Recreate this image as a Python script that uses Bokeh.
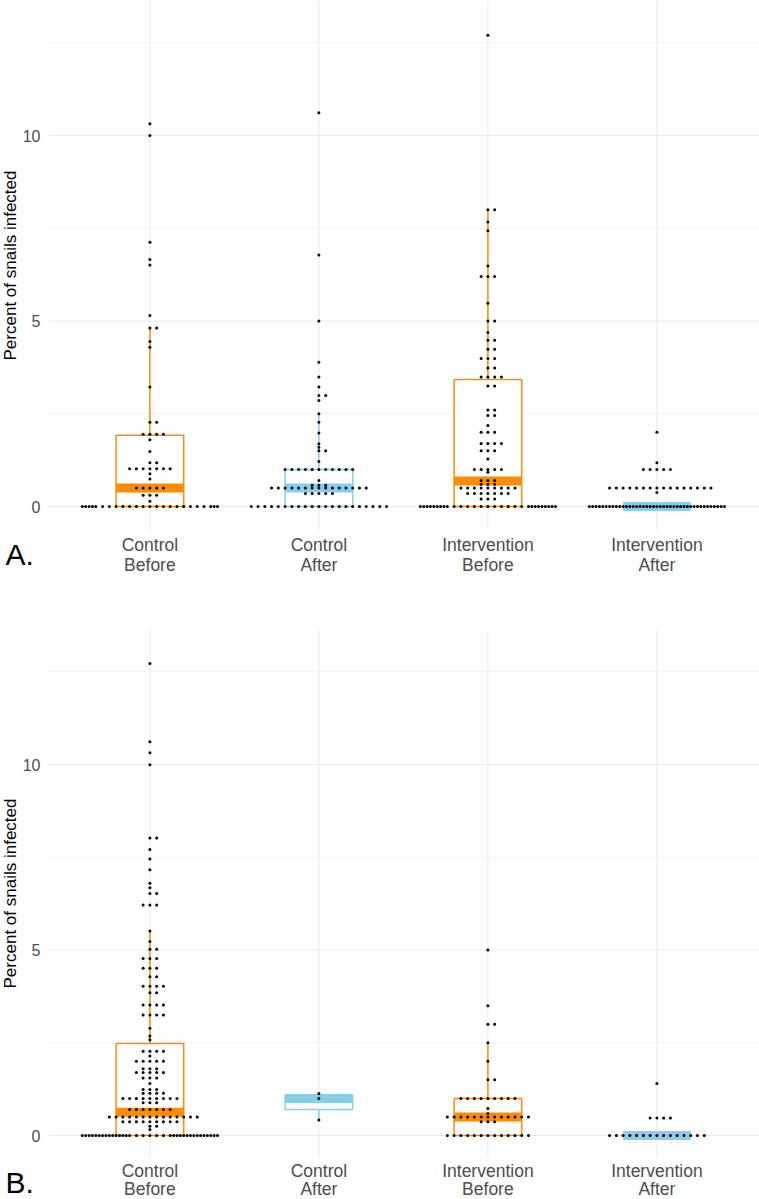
import math
from bokeh.plotting import figure
from bokeh.models import Range1d, ColumnDataSource
from bokeh.layouts import column
from bokeh.core.properties import value
from bokeh.embed import file_html
from bokeh.resources import INLINE

# ---------------- data ----------------
categories = ["Control\nBefore", "Control\nAfter", "Intervention\nBefore", "Intervention\nAfter"]
periods = ["Before", "After", "Before", "After"]
period_colors = {"Before": "#FF8C00", "After": "#87CEEB"}
y_ticks = [0, 5, 10]
y_minor_ticks = [2.5, 7.5, 12.5]
y_title = "Percent of snails infected"
panel_tags = ["A.", "B."]

# Panel A: dot rows (value of the row, number of dots in it)
a_cb_values = [10.32, 10.0, 7.12, 6.66, 6.51, 5.15, 4.81, 4.45, 4.29, 3.22, 2.27, 1.95, 1.8, 1.48, 1.18, 1.02, 0.88, 0.74, 0.5, 0.3, 0.14, 0.0]
a_cb_counts = [1, 1, 1, 1, 1, 1, 2, 1, 1, 1, 2, 4, 1, 1, 2, 7, 1, 1, 5, 3, 1, 24]
a_ca_values = [10.61, 6.78, 5.0, 3.89, 3.49, 3.22, 2.99, 2.86, 2.5, 2.27, 1.98, 1.69, 1.6, 1.5, 1.21, 1.0, 0.7, 0.57, 0.5, 0.35, 0.0]
a_ca_counts = [1, 1, 1, 1, 1, 1, 2, 1, 1, 1, 1, 1, 1, 2, 1, 11, 1, 3, 15, 5, 21]
a_ib_values = [12.7, 8.0, 7.67, 7.43, 6.48, 6.2, 5.48, 5.0, 4.69, 4.48, 4.24, 3.99, 3.73, 3.49, 3.25, 2.6, 2.45, 2.18, 2.0, 1.7, 1.5, 1.28, 1.0, 0.92, 0.7, 0.6, 0.5, 0.35, 0.2, 0.0]
a_ib_counts = [1, 2, 1, 1, 1, 3, 1, 2, 1, 2, 2, 3, 2, 4, 2, 2, 2, 1, 3, 4, 3, 1, 5, 1, 3, 3, 9, 7, 3, 29]
a_ia_values = [2.0, 1.18, 1.0, 0.5, 0.38, 0.0]
a_ia_counts = [1, 1, 5, 16, 1, 41]

# Panel A: box statistics
a_q1 = [0.0, 0.0, 0.0, 0.0]
a_median = [0.5, 0.5, 0.69, 0.0]
a_q3 = [1.92, 1.0, 3.42, 0.0]
a_whisker_low = [0.0, 0.0, 0.0, 0.0]
a_whisker_high = [4.81, 2.5, 8.0, 0.0]

# Panel B: dot rows
b_cb_values = [12.72, 10.61, 10.32, 9.99, 8.02, 7.71, 7.45, 7.16, 6.8, 6.68, 6.52, 6.21, 5.51, 5.23, 5.02, 4.77, 4.51, 4.28, 4.02, 3.85, 3.52, 3.25, 2.89, 2.68, 2.58, 2.27, 2.14, 2.0, 1.8, 1.7, 1.55, 1.4, 1.24, 1.14, 1.0, 0.88, 0.7, 0.5, 0.37, 0.25, 0.16, 0.0]
b_cb_counts = [1, 1, 1, 1, 2, 1, 1, 1, 1, 1, 2, 3, 1, 1, 2, 3, 3, 2, 4, 2, 4, 4, 1, 1, 1, 4, 1, 5, 3, 5, 3, 1, 3, 4, 9, 3, 7, 14, 9, 2, 1, 35]
b_ca_values = [1.13, 1.0, 0.42]
b_ca_counts = [1, 1, 1]
b_ib_values = [5.0, 3.5, 3.0, 2.5, 2.0, 1.5, 1.0, 0.73, 0.59, 0.5, 0.37, 0.0]
b_ib_counts = [1, 1, 2, 1, 1, 2, 9, 1, 1, 13, 3, 13]
b_ia_values = [1.4, 0.47, 0.0]
b_ia_counts = [1, 4, 15]

# Panel B: box statistics
b_q1 = [0.0, 0.7, 0.0, 0.0]
b_median = [0.63, 1.0, 0.5, 0.0]
b_q3 = [2.48, 1.08, 1.0, 0.0]
b_whisker_low = [0.0, 0.42, 0.0, 0.0]
b_whisker_high = [5.51, 1.13, 2.5, 0.0]

# ---------------- layout / style (screen pixels) ----------------
FONT = "Liberation Sans"
DOT_STEP = 0.04      # horizontal spacing between dots of one row (x units)
CORRAL = 0.82        # width a row may occupy before it wraps around
BOX_HALF = 0.2
WIDTH = 759
CAT1_PX, CAT_STEP_PX = 149.4, 169.0
Y_PX_PER_UNIT = 37.1
GRID_LEFT_PX = 48


def x_at(px):
    return 1 + (px - CAT1_PX) / CAT_STEP_PX


def swarm(center, values, counts):
    xs, ys = [], []
    half = CORRAL / 2
    for v, n in zip(values, counts):
        for i in range(n):
            k = (i + 1) // 2
            k = k if i % 2 == 1 else -k
            off = k * DOT_STEP
            if abs(off) > half:
                off = ((off + half) % CORRAL) - half
            xs.append(center + off)
            ys.append(v)
    return xs, ys


def panel(rows, q1, med, q3, lo, hi, top_px, height, zero_px, frame_top_px,
          frame_bottom_px, label1_px, label2_px, tag, tag_px):
    def y_at(py):
        return (zero_px - py) / Y_PX_PER_UNIT

    p = figure(width=WIDTH, height=height,
               x_range=Range1d(x_at(0), x_at(WIDTH)),
               y_range=Range1d(y_at(top_px + height), y_at(top_px)),
               output_backend="svg", toolbar_location=None,
               x_axis_location=None, y_axis_location=None,
               min_border=0, min_border_left=0, min_border_right=0,
               min_border_top=0, min_border_bottom=0,
               outline_line_color=None, background_fill_color="white",
               border_fill_color="white")
    p.grid.visible = False

    pos = [1, 2, 3, 4]
    y_top = y_at(frame_top_px)
    y_bot = y_at(frame_bottom_px)
    x_left = x_at(GRID_LEFT_PX)
    x_right = x_at(WIDTH)

    # grid lines
    p.segment(x0=x_left, x1=x_right, y0=y_minor_ticks, y1=y_minor_ticks,
              line_color="#EFEFEF", line_width=0.8)
    p.segment(x0=x_left, x1=x_right, y0=y_ticks, y1=y_ticks,
              line_color="#EBEBEB", line_width=1.1)
    p.segment(x0=pos, x1=pos, y0=y_bot, y1=y_top, line_color="#EBEBEB", line_width=1.1)

    # boxes
    cols = [period_colors[pp] for pp in periods]
    box = ColumnDataSource(dict(x=pos, left=[x - BOX_HALF for x in pos],
                                right=[x + BOX_HALF for x in pos],
                                q1=q1, med=med, q3=q3, lo=lo, hi=hi, color=cols))
    p.segment(x0="x", y0="q3", x1="x", y1="hi", source=box, line_color="color", line_width=1.5)
    p.segment(x0="x", y0="lo", x1="x", y1="q1", source=box, line_color="color", line_width=1.5)
    p.quad(left="left", right="right", bottom="q1", top="q3", source=box,
           fill_color="white", line_color="color", line_width=1.5)
    p.segment(x0="left", y0="med", x1="right", y1="med", source=box,
              line_color="color", line_width=9, line_cap="butt")

    # dots
    xs, ys = [], []
    for c, (vals, cnts) in zip(pos, rows):
        gx, gy = swarm(c, vals, cnts)
        xs += gx
        ys += gy
    p.scatter(xs, ys, size=3.0, color="black", line_width=0)

    # y tick labels
    p.text(x=[x_at(40)] * len(y_ticks), y=y_ticks, text=[str(t) for t in y_ticks],
           text_font=value(FONT), text_font_size=value("16px"), text_color="#4D4D4D",
           text_align="right", text_baseline="middle")
    # y axis title
    p.text(x=[x_at(10)], y=[(y_top + y_bot) / 2], text=[y_title], angle=math.pi / 2,
           text_font=value(FONT), text_font_size=value("17px"), text_color="black",
           text_align="center", text_baseline="middle")
    # category labels (two lines)
    first = [c.split("\n")[0] for c in categories]
    second = [c.split("\n")[1] for c in categories]
    p.text(x=pos, y=[y_at(label1_px)] * 4, text=first,
           text_font=value(FONT), text_font_size=value("17.5px"), text_color="#4D4D4D",
           text_align="center", text_baseline="middle")
    p.text(x=pos, y=[y_at(label2_px)] * 4, text=second,
           text_font=value(FONT), text_font_size=value("17.5px"), text_color="#4D4D4D",
           text_align="center", text_baseline="middle")
    # panel tag
    p.text(x=[x_at(5)], y=[y_at(tag_px)], text=[tag],
           text_font=value(FONT), text_font_size=value("30px"), text_color="black",
           text_align="left", text_baseline="middle")
    return p


pa = panel([(a_cb_values, a_cb_counts), (a_ca_values, a_ca_counts),
            (a_ib_values, a_ib_counts), (a_ia_values, a_ia_counts)],
           a_q1, a_median, a_q3, a_whisker_low, a_whisker_high,
           top_px=0, height=600, zero_px=506, frame_top_px=0, frame_bottom_px=530,
           label1_px=544, label2_px=564, tag=panel_tags[0], tag_px=554)
pb = panel([(b_cb_values, b_cb_counts), (b_ca_values, b_ca_counts),
            (b_ib_values, b_ib_counts), (b_ia_values, b_ia_counts)],
           b_q1, b_median, b_q3, b_whisker_low, b_whisker_high,
           top_px=600, height=599, zero_px=1135, frame_top_px=629, frame_bottom_px=1157,
           label1_px=1170, label2_px=1188, tag=panel_tags[1], tag_px=1182)

layout = column(pa, pb, spacing=0)
open("out.html", "w").write(file_html(layout, INLINE))
